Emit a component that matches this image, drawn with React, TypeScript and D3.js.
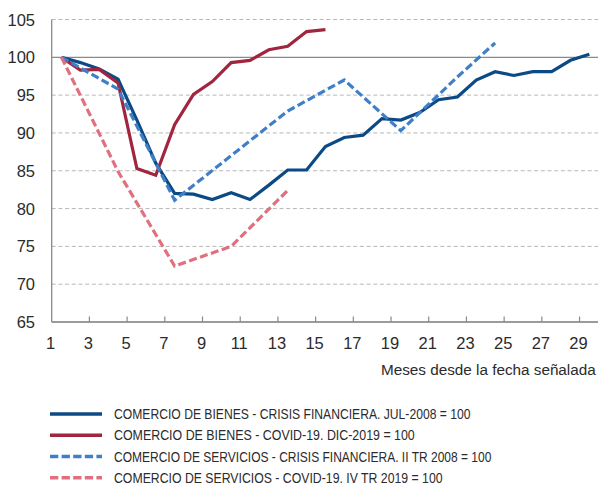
import React, { useLayoutEffect, useRef, useState } from "react";
import * as d3 from "d3";

const W = 598;
const H = 486;

// month indices (1-based months since reference date)
const bienesCrisisMonths = d3.range(1, 30);
const bienesCrisis = [100, 99.3, 98.45, 97.1, 91.7, 86.0, 82.0, 81.9, 81.2, 82.1, 81.2, 83.1, 85.1, 85.1, 88.2, 89.4, 89.7, 91.9, 91.7, 92.7, 94.4, 94.75, 97.0, 98.1, 97.6, 98.1, 98.1, 99.6, 100.4];

const bienesCovidMonths = d3.range(1, 16);
const bienesCovid = [100, 98.3, 98.4, 96.6, 85.3, 84.4, 91.1, 95.1, 96.8, 99.3, 99.6, 101.0, 101.45, 103.4, 103.65];

const serviciosCrisisMonths = [1, 4, 7, 10, 13, 16, 19, 22, 24];
const serviciosCrisis = [100, 95.8, 81.1, 87.0, 92.9, 97.0, 90.3, 97.4, 101.9];

const serviciosCovidMonths = [1, 4, 7, 10, 13];
const serviciosCovid = [100, 84.9, 72.4, 75.0, 82.4];

const yTicks = [65, 70, 75, 80, 85, 90, 95, 100, 105];
const xTickLabels = d3.range(1, 30, 2);

const axisTitle = "Meses desde la fecha señalada";

const seriesNames = [
  "COMERCIO DE BIENES - CRISIS FINANCIERA. JUL-2008 = 100",
  "COMERCIO DE BIENES - COVID-19. DIC-2019 = 100",
  "COMERCIO DE SERVICIOS - CRISIS FINANCIERA. II TR 2008 = 100",
  "COMERCIO DE SERVICIOS - COVID-19. IV TR 2019 = 100",
];
const seriesColors = ["#0b4a85", "#a2253f", "#3f7fc7", "#e0707e"];
const seriesDashed = [false, false, true, true];
const legendTextWidths = [357, 301, 378, 329];

function FitText(props: { x: number; y: number; width: number; fontSize: number; fill: string; children: string }) {
  const ref = useRef<SVGTextElement>(null);
  const [sx, setSx] = useState(1);
  useLayoutEffect(() => {
    if (ref.current) {
      const w = ref.current.getComputedTextLength();
      if (w > 0) setSx(props.width / w);
    }
  }, [props.width, props.children]);
  return (
    <text
      ref={ref}
      transform={`translate(${props.x},${props.y}) scale(${sx},1)`}
      fontSize={props.fontSize}
      fill={props.fill}
    >
      {props.children}
    </text>
  );
}

export default function App() {
  const x = d3.scaleLinear().domain([1, 30]).range([51.7, 598.4]);
  const y = d3.scaleLinear().domain([65, 105]).range([322, 19.5]);

  const seriesData = [
    bienesCrisisMonths.map((m, i) => [m, bienesCrisis[i]]),
    bienesCovidMonths.map((m, i) => [m, bienesCovid[i]]),
    serviciosCrisisMonths.map((m, i) => [m, serviciosCrisis[i]]),
    serviciosCovidMonths.map((m, i) => [m, serviciosCovid[i]]),
  ];

  const line = d3
    .line<number[]>()
    .x((d) => x(d[0] + 0.52))
    .y((d) => y(d[1]));

  const font = "'Liberation Sans', Arial, Helvetica, sans-serif";
  const textColor = "#2b2b2b";
  const plotLeft = x(1);
  const plotRight = W;

  const legendY = [414, 435.3, 456.6, 477.7];

  return (
    <svg
      width={W}
      height={H}
      style={{ position: "absolute", left: 0, top: 0, background: "#fff" }}
      fontFamily={font}
    >
      {/* gridlines */}
      {yTicks
        .filter((t) => t !== 65)
        .map((t) => (
          <line
            key={"g" + t}
            x1={plotLeft}
            x2={plotRight}
            y1={y(t)}
            y2={y(t)}
            stroke={t === 100 ? "#8a8a8a" : "#b8b8b8"}
            strokeWidth={t === 100 ? 1.3 : 1}
            strokeDasharray={t === 100 ? undefined : "4,2.7"}
          />
        ))}

      {/* y axis */}
      <line x1={plotLeft} x2={plotLeft} y1={y(105)} y2={y(65)} stroke="#8a8a8a" strokeWidth={1.3} />
      {/* x axis */}
      <line x1={plotLeft} x2={plotRight} y1={y(65)} y2={y(65)} stroke="#7a7a7a" strokeWidth={1.6} />
      {xTickLabels.slice(1).map((t) => (
        <line key={"t" + t} x1={x(t)} x2={x(t)} y1={y(65)} y2={y(65) - 5.5} stroke="#8a8a8a" strokeWidth={1.2} />
      ))}

      {/* y labels */}
      {yTicks.map((t) => (
        <text key={"yl" + t} x={35} y={y(t) + 6} textAnchor="end" fontSize={16.5} fill={textColor}>
          {t}
        </text>
      ))}

      {/* x labels */}
      {xTickLabels.map((t) => (
        <text key={"xl" + t} x={x(t) - 1} y={349.3} textAnchor="middle" fontSize={16.5} fill={textColor}>
          {t}
        </text>
      ))}

      <FitText x={381} y={375} width={215} fontSize={15} fill={textColor}>
        {axisTitle}
      </FitText>

      {/* series */}
      {seriesData.map((d, i) => (
        <path
          key={"s" + i}
          d={line(d as number[][]) || ""}
          fill="none"
          stroke={seriesColors[i]}
          strokeWidth={3.2}
          strokeDasharray={seriesDashed[i] ? "8,3.5" : undefined}
          strokeLinejoin="miter"
        />
      ))}

      {/* legend */}
      {seriesNames.map((name, i) => (
        <g key={"l" + i}>
          <line
            x1={50}
            x2={102}
            y1={legendY[i]}
            y2={legendY[i]}
            stroke={seriesColors[i]}
            strokeWidth={3.5}
            strokeDasharray={seriesDashed[i] ? "8.3,3.3" : undefined}
          />
          <FitText x={114} y={legendY[i] + 5} width={legendTextWidths[i]} fontSize={14.5} fill={textColor}>
            {name}
          </FitText>
        </g>
      ))}
    </svg>
  );
}
